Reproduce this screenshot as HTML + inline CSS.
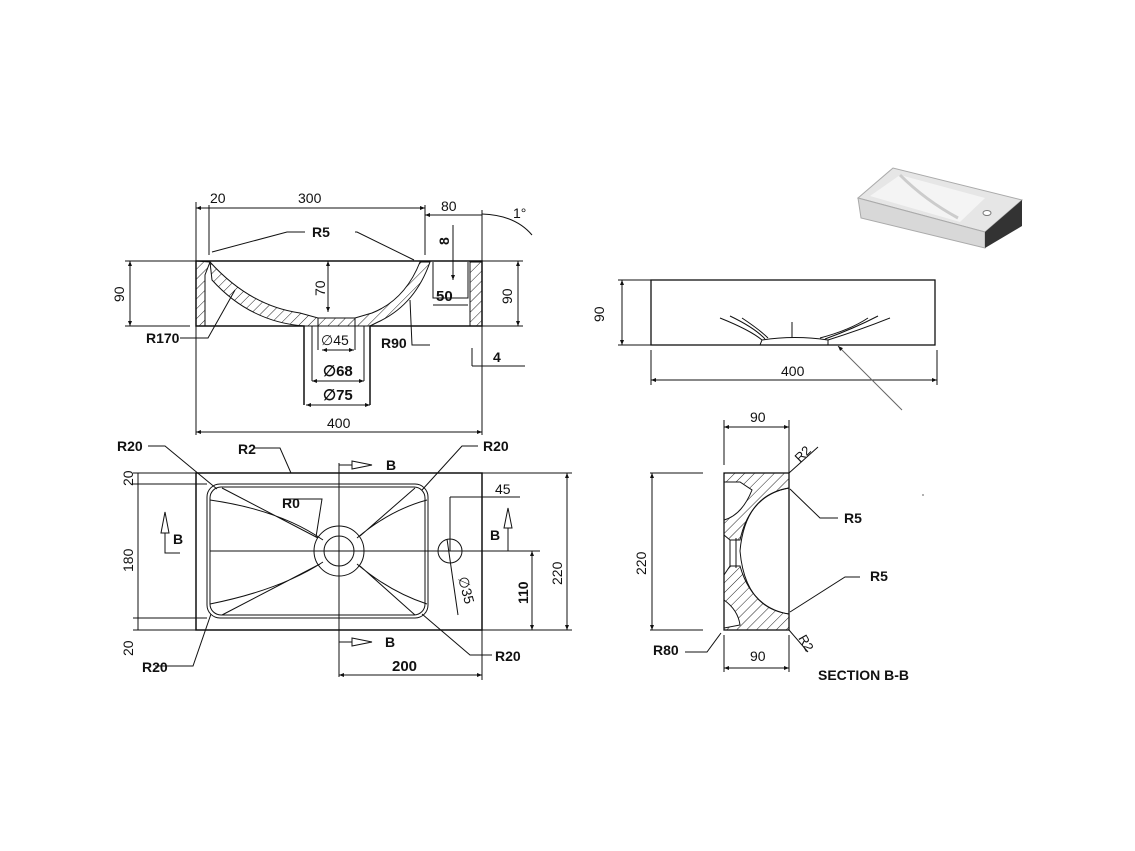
<!DOCTYPE html>
<html><head><meta charset="utf-8"><style>
html,body{margin:0;padding:0;background:#fff}
svg{display:block}
text{font-family:"Liberation Sans",sans-serif;fill:#111}
.b{font-weight:bold}
</style></head><body>
<svg width="1135" height="851" viewBox="0 0 1135 851" xmlns="http://www.w3.org/2000/svg">
<defs>
<marker id="a" viewBox="0 0 10 10" refX="10" refY="5" markerWidth="7" markerHeight="5" orient="auto-start-reverse"><path d="M0,1 L10,5 L0,9z" fill="#111"/></marker>
<pattern id="h" width="7" height="7" patternUnits="userSpaceOnUse" patternTransform="rotate(45)"><line x1="0" y1="0" x2="0" y2="7" stroke="#222" stroke-width="1"/></pattern>
</defs>
<g stroke="#111" stroke-width="1" fill="none">
<!-- FRONT SECTION -->
<path d="M304,405 V326 H196 V261 H482 V326 H370 V405" stroke-width="1.5"/>
<path d="M196,261 L210,262 L205,275 V326 H196Z" fill="url(#h)"/>
<path d="M210,262 Q250,306 300,313 L318,318 L355,318 L372,313 Q405,300 420,262 L430,262 Q415,305 378,322 L370,326 L304,326 Q250,322 212,280 Z" fill="url(#h)"/>
<path d="M470,262 L482,262 L482,326 L470,326 Z" fill="url(#h)"/>
<path d="M433,262 V298 H468 V262"/>
<line x1="318" y1="318" x2="318" y2="350"/><line x1="355" y1="318" x2="355" y2="350"/>
<line x1="312" y1="326" x2="312" y2="381"/><line x1="364" y1="326" x2="364" y2="381"/>
<!-- dims -->
<line x1="196" y1="202" x2="196" y2="261"/><line x1="209" y1="205" x2="209" y2="255"/>
<line x1="425" y1="205" x2="425" y2="255"/><line x1="482" y1="210" x2="482" y2="261"/>
<line x1="196" y1="208" x2="425" y2="208" marker-start="url(#a)" marker-end="url(#a)"/>
<line x1="425" y1="215" x2="482" y2="215" marker-start="url(#a)"/>
<path d="M482,214 Q515,215 532,235"/>
<line x1="125" y1="261" x2="196" y2="261"/><line x1="125" y1="326" x2="190" y2="326"/>
<line x1="130" y1="261" x2="130" y2="326" marker-start="url(#a)" marker-end="url(#a)"/>
<line x1="482" y1="261" x2="523" y2="261"/><line x1="482" y1="326" x2="523" y2="326"/>
<line x1="518" y1="261" x2="518" y2="326" marker-start="url(#a)" marker-end="url(#a)"/>
<line x1="328" y1="261" x2="328" y2="312" marker-start="url(#a)" marker-end="url(#a)"/>
<line x1="453" y1="225" x2="453" y2="280" marker-end="url(#a)"/>
<line x1="433" y1="305" x2="468" y2="305"/>
<line x1="322" y1="350" x2="354" y2="350" marker-start="url(#a)" marker-end="url(#a)"/>
<line x1="312" y1="381" x2="364" y2="381" marker-start="url(#a)" marker-end="url(#a)"/>
<line x1="306" y1="405" x2="370" y2="405" marker-start="url(#a)" marker-end="url(#a)"/>
<line x1="196" y1="326" x2="196" y2="435"/><line x1="482" y1="326" x2="482" y2="435"/>
<line x1="196" y1="432" x2="482" y2="432" marker-start="url(#a)" marker-end="url(#a)"/>
<line x1="472" y1="348" x2="472" y2="366"/><line x1="472" y1="366" x2="525" y2="366"/>
<!-- leaders -->
<path d="M212,252 L287,232 H305 M355,232 H357 L414,260"/>
<path d="M180,338 H208 L235,290"/>
<path d="M430,345 H412 L410,300"/>
</g>
<text x="210" y="203" font-size="14">20</text><text x="298" y="203" font-size="14">300</text>
<text x="441" y="211" font-size="14">80</text><text x="513" y="218" font-size="14">1°</text>
<text x="312" y="237" font-size="14" class="b">R5</text>
<text x="449" y="245" font-size="14" class="b" transform="rotate(-90 449 245)">8</text>
<text x="436" y="301" font-size="15" class="b">50</text>
<text x="325" y="296" font-size="14" transform="rotate(-90 325 296)">70</text>
<text x="124" y="302" font-size="14" transform="rotate(-90 124 302)">90</text>
<text x="512" y="304" font-size="14" transform="rotate(-90 512 304)">90</text>
<text x="146" y="343" font-size="14" class="b">R170</text>
<text x="381" y="348" font-size="14" class="b">R90</text>
<text x="493" y="362" font-size="14" class="b">4</text>
<text x="321" y="345" font-size="14">∅45</text>
<text x="323" y="376" font-size="15" class="b">∅68</text>
<text x="323" y="400" font-size="15" class="b">∅75</text>
<text x="327" y="428" font-size="14">400</text>

<!-- PLAN VIEW -->
<g stroke="#111" stroke-width="1" fill="none">
<rect x="196" y="473" width="286" height="157" stroke-width="1.5"/>
<rect x="207" y="484" width="221" height="134" rx="13"/>
<rect x="210" y="487" width="215" height="128" rx="11"/>
<circle cx="339" cy="551" r="25"/><circle cx="339" cy="551" r="15"/>
<circle cx="450" cy="551" r="12"/>
<line x1="210" y1="551" x2="540" y2="551"/>
<line x1="339" y1="463" x2="339" y2="677"/>
<path d="M222,488 L318,538 M210,500 Q280,510 323,540"/>
<path d="M222,615 L320,564 M210,604 Q280,590 323,562"/>
<path d="M415,488 L360,536 M427,500 Q390,510 357,538"/>
<path d="M415,615 L360,566 M427,604 Q390,592 357,564"/>
<line x1="447" y1="539" x2="458" y2="615"/>
<path d="M339,465 H352 M352,461 L372,465 L352,469Z"/>
<path d="M339,642 H352 M352,638 L372,642 L352,646Z"/>
<path d="M165,533 V553 H180 M161,533 L165,512 L169,533Z"/>
<path d="M508,551 V528 M504,528 L508,508 L512,528Z"/>
<line x1="133" y1="473" x2="196" y2="473"/><line x1="133" y1="484" x2="207" y2="484"/>
<line x1="133" y1="618" x2="207" y2="618"/><line x1="133" y1="630" x2="196" y2="630"/>
<line x1="138" y1="473" x2="138" y2="630"/>
<line x1="482" y1="473" x2="572" y2="473"/><line x1="482" y1="630" x2="572" y2="630"/>
<line x1="567" y1="473" x2="567" y2="630" marker-start="url(#a)" marker-end="url(#a)"/>
<line x1="532" y1="551" x2="532" y2="630" marker-start="url(#a)" marker-end="url(#a)"/>
<line x1="450" y1="497" x2="520" y2="497"/><line x1="450" y1="497" x2="450" y2="551"/>
<line x1="482" y1="630" x2="482" y2="680"/>
<line x1="339" y1="675" x2="482" y2="675" marker-start="url(#a)" marker-end="url(#a)"/>
<path d="M148,446 H165 L217,489"/>
<path d="M255,448 H280 L291,473"/>
<path d="M284,499 H322 L316,537"/>
<path d="M478,446 H462 L422,490"/>
<path d="M155,666 H193 L211,614"/>
<path d="M492,655 H470 L422,614"/>
</g>
<text x="117" y="451" font-size="14" class="b">R20</text>
<text x="238" y="454" font-size="14" class="b">R2</text>
<text x="282" y="508" font-size="14" class="b">R0</text>
<text x="483" y="451" font-size="14" class="b">R20</text>
<text x="386" y="470" font-size="14" class="b">B</text>
<text x="385" y="647" font-size="14" class="b">B</text>
<text x="173" y="544" font-size="14" class="b">B</text>
<text x="490" y="540" font-size="14" class="b">B</text>
<text x="495" y="494" font-size="14">45</text>
<text x="133" y="486" font-size="14" transform="rotate(-90 133 486)">20</text>
<text x="133" y="572" font-size="14" transform="rotate(-90 133 572)">180</text>
<text x="133" y="656" font-size="14" transform="rotate(-90 133 656)">20</text>
<text x="562" y="585" font-size="14" transform="rotate(-90 562 585)">220</text>
<text x="528" y="604" font-size="14" class="b" transform="rotate(-90 528 604)">110</text>
<text x="458" y="578" font-size="14" transform="rotate(75 458 578)">∅35</text>
<text x="142" y="672" font-size="14" class="b">R20</text>
<text x="495" y="661" font-size="14" class="b">R20</text>
<text x="392" y="671" font-size="15" class="b">200</text>

<!-- SIDE VIEW -->
<g stroke="#111" stroke-width="1" fill="none">
<rect x="651" y="280" width="284" height="65" stroke-width="1.3"/>
<path d="M720,318 Q750,330 762,340 M730,316 Q755,328 765,339 M742,318 Q760,330 768,338"/>
<path d="M890,318 Q860,330 828,340 M878,316 Q855,328 825,339 M868,318 Q850,330 820,338"/>
<path d="M762,340 Q795,335 828,340 L828,345 H760Z"/>
<line x1="792" y1="322" x2="792" y2="338"/>
<line x1="618" y1="280" x2="651" y2="280"/><line x1="618" y1="345" x2="651" y2="345"/>
<line x1="622" y1="280" x2="622" y2="345" marker-start="url(#a)" marker-end="url(#a)"/>
<line x1="651" y1="350" x2="651" y2="385"/><line x1="937" y1="350" x2="937" y2="385"/>
<line x1="651" y1="380" x2="937" y2="380" marker-start="url(#a)" marker-end="url(#a)"/>
<line x1="902" y1="410" x2="838" y2="346" stroke="#666" marker-end="url(#a)"/>
</g>
<text x="604" y="322" font-size="14" transform="rotate(-90 604 322)">90</text>
<text x="781" y="376" font-size="14">400</text>

<!-- SECTION B-B -->
<g stroke="#111" stroke-width="1" fill="none">
<rect x="724" y="473" width="65" height="157" stroke-width="1.3"/>
<path d="M724,473 H789 L789,488 Q750,495 740,540 L730,540 L724,535 V520 Q742,515 752,490 L740,482 L724,482Z" fill="url(#h)"/>
<path d="M724,630 H789 L789,614 Q752,608 740,566 L730,566 L724,575 V600 Q738,610 740,625 L724,628Z" fill="url(#h)"/>
<path d="M789,488 Q745,495 740,551 Q745,608 789,614"/>
<path d="M730,540 V566 M736,538 V568"/>
<line x1="724" y1="420" x2="724" y2="465"/><line x1="789" y1="420" x2="789" y2="473"/>
<line x1="724" y1="427" x2="789" y2="427" marker-start="url(#a)" marker-end="url(#a)"/>
<line x1="724" y1="635" x2="724" y2="672"/><line x1="789" y1="635" x2="789" y2="672"/>
<line x1="724" y1="668" x2="789" y2="668" marker-start="url(#a)" marker-end="url(#a)"/>
<line x1="650" y1="473" x2="703" y2="473"/><line x1="650" y1="630" x2="703" y2="630"/>
<line x1="652" y1="473" x2="652" y2="630" marker-start="url(#a)" marker-end="url(#a)"/>
<path d="M818,447 L789,473 M838,518 H820 L790,489 M860,577 H845 L790,612 M808,652 L789,630 M685,652 H707 L721,633"/>
</g>
<text x="750" y="422" font-size="14">90</text>
<text x="750" y="661" font-size="14">90</text>
<text x="646" y="575" font-size="14" transform="rotate(-90 646 575)">220</text>
<text x="800" y="463" font-size="13" transform="rotate(-45 800 463)">R2</text>
<text x="798" y="638" font-size="13" transform="rotate(60 798 638)">R2</text>
<text x="844" y="523" font-size="14" class="b">R5</text>
<text x="870" y="581" font-size="14" class="b">R5</text>
<text x="653" y="655" font-size="14" class="b">R80</text>
<text x="818" y="680" font-size="14" class="b">SECTION B-B</text>
<circle cx="923" cy="495" r="1" fill="#999"/>

<!-- 3D -->
<polygon points="858,198 893,168 1022,200 985,232" fill="#e6e6e6" stroke="#aaa"/>
<polygon points="870,196 900,175 985,198 960,222" fill="#f4f4f4"/>
<path d="M900,175 Q925,200 958,218" stroke="#ccc" fill="none" stroke-width="3"/>
<polygon points="858,198 985,232 985,248 861,218" fill="#d8d8d8" stroke="#aaa"/>
<polygon points="985,232 1022,200 1022,226 985,248" fill="#333"/>
<ellipse cx="987" cy="213" rx="4" ry="2.5" fill="#fff" stroke="#777"/>
</svg>
</body></html>
